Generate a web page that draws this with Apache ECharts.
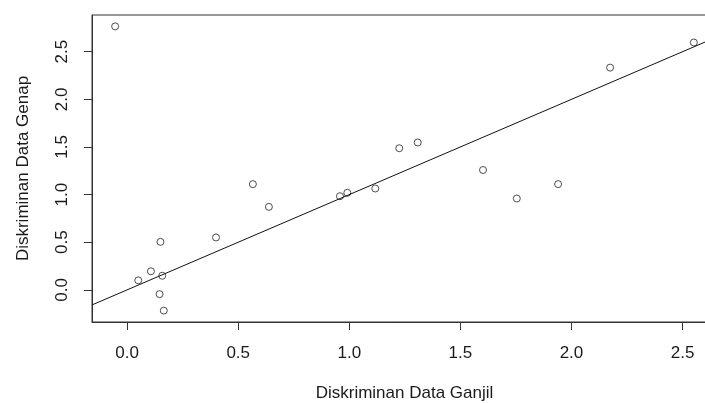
<!DOCTYPE html>
<html>
<head>
<meta charset="utf-8">
<script src="https://cdn.jsdelivr.net/npm/echarts@6/dist/echarts.min.js"></script>
<style>
  html, body { margin: 0; padding: 0; background: #fff; }
  #chart { width: 705px; height: 403px; }
</style>
</head>
<body>
<div id="chart"></div>
<script>
// ****** data ******
var ganjil = [-0.054, 0.050, 0.107, 0.150, 0.158, 0.146, 0.165, 0.400, 0.566, 0.638,
              0.958, 0.991, 1.117, 1.225, 1.308, 1.602, 1.754, 1.940, 2.174, 2.551];
var genap  = [2.766, 0.100, 0.195, 0.504, 0.148, -0.045, -0.218, 0.550, 1.110, 0.871,
              0.983, 1.019, 1.064, 1.487, 1.547, 1.258, 0.959, 1.110, 2.333, 2.597];
var xTicks = [0, 0.5, 1, 1.5, 2, 2.5];
var yTicks = [0, 0.5, 1, 1.5, 2, 2.5];
var fitLine = [0, 1]; // intercept, slope

// R style range: data range extended by 4%
function padRange(arr) {
  var lo = Math.min.apply(null, arr), hi = Math.max.apply(null, arr);
  var d = (hi - lo) * 0.04;
  return [lo - d, hi + d];
}
var xr = padRange(ganjil);
var yr = padRange(genap);

var points = ganjil.map(function (v, i) { return [v, genap[i]]; });
var lineData = [xr[0], xr[1]].map(function (x) { return [x, fitLine[0] + fitLine[1] * x]; });

function fmt(v) { return v.toFixed(1); }

var txt = '#1a1a1a';
var font = 'Liberation Sans';

var myChart = echarts.init(document.getElementById('chart'));
var option = {
  animation: false,
  grid: {
    left: 92, top: 15, width: 625, bottom: 81,
    containLabel: false, outerBoundsMode: 'none',
    show: true, borderColor: '#333', borderWidth: 1, backgroundColor: 'transparent'
  },
  xAxis: {
    type: 'value', min: xr[0], max: xr[1],
    name: 'Diskriminan Data Ganjil', nameLocation: 'middle', nameGap: 63,
    nameTextStyle: { color: txt, fontSize: 17, fontFamily: font },
    splitLine: { show: false },
    axisLine: { show: true, onZero: false, lineStyle: { color: '#333', width: 1 } },
    axisTick: { show: true, length: 8, customValues: xTicks, lineStyle: { color: '#333' } },
    axisLabel: { customValues: xTicks, formatter: fmt, margin: 23, color: txt, fontSize: 17, fontFamily: font }
  },
  yAxis: {
    type: 'value', min: yr[0], max: yr[1],
    name: 'Diskriminan Data Genap', nameLocation: 'middle', nameGap: 60, nameRotate: 90,
    nameTextStyle: { color: txt, fontSize: 17, fontFamily: font },
    splitLine: { show: false },
    axisLine: { show: true, onZero: false, lineStyle: { color: '#333', width: 1 } },
    axisTick: { show: true, length: 8, customValues: yTicks, lineStyle: { color: '#333' } },
    axisLabel: { customValues: yTicks, formatter: fmt, rotate: 90, margin: 21, color: txt, fontSize: 17, fontFamily: font }
  },
  series: [
    {
      type: 'line',
      data: lineData,
      showSymbol: false,
      lineStyle: { color: '#111', width: 1 },
      clip: true
    },
    {
      type: 'scatter',
      data: points,
      symbol: 'circle',
      symbolSize: 7,
      itemStyle: { color: 'rgba(255,255,255,0)', borderColor: '#222', borderWidth: 1 }
    }
  ]
};
myChart.setOption(option);
</script>
</body>
</html>
